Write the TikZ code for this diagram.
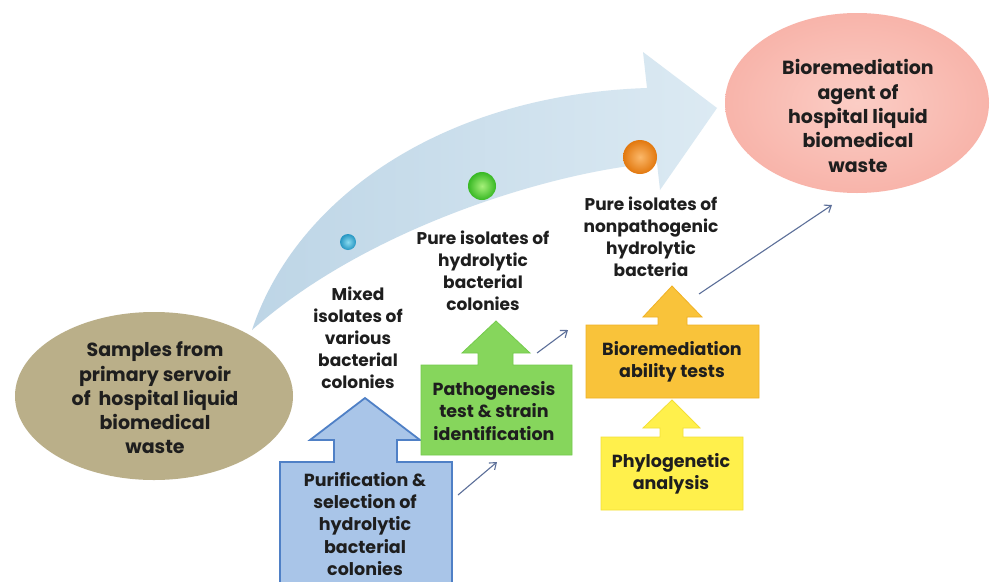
\documentclass[tikz,border=0pt]{standalone}
\usepackage{fontspec}
\setmainfont{Poppins}
\usetikzlibrary{shapes.geometric,arrows.meta}
\definecolor{txt}{HTML}{1E1E1E}
\definecolor{tanfill}{HTML}{BAAF89}
\definecolor{pinkfill}{HTML}{F8B4AA}
\definecolor{pinklight}{HTML}{FBCDC5}
\definecolor{arrowA}{HTML}{BDD5E6}
\definecolor{arrowB}{HTML}{DCEAF3}
\definecolor{bluefill}{HTML}{A9C5E8}
\definecolor{blueedge}{HTML}{4F80C6}
\definecolor{greenfill}{HTML}{86D65C}
\definecolor{greenedge}{HTML}{74CA4C}
\definecolor{orangefill}{HTML}{F9C33A}
\definecolor{orangeedge}{HTML}{F0B125}
\definecolor{yellowfill}{HTML}{FFF04C}
\definecolor{yellowedge}{HTML}{F3DF36}
\definecolor{conn}{HTML}{5C6F99}
\definecolor{ballBi}{HTML}{8ADBF0}
\definecolor{ballBo}{HTML}{2696C2}
\definecolor{ballGi}{HTML}{A6F07A}
\definecolor{ballGo}{HTML}{38B824}
\definecolor{ballOi}{HTML}{FBB86A}
\definecolor{ballOo}{HTML}{E2780E}
\tikzset{
  big/.style={align=center, text=txt, font=\bfseries\fontsize{19}{24.3}\selectfont},
  lbl/.style={align=center, text=txt, font=\bfseries\fontsize{17}{22}\selectfont},
  boxlbl/.style={align=center, text=txt, font=\bfseries\fontsize{17.5}{22.6}\selectfont},
  thin/.style={draw=conn, line width=1.1pt, -{Straight Barb[length=6pt,width=9pt]}},
  ballnode/.style={circle, inner sep=0pt, minimum size=#1},
}
\begin{document}
\begin{tikzpicture}[x=1pt,y=-1pt]
\useasboundingbox (0,0) rectangle (990,581);
\fill[white] (0,0) rectangle (990,581);

% big curved arrow
\shade[left color=arrowA, right color=arrowB]
  (252,330) .. controls (295,200) and (440,95) .. (647,88)
  -- (643,52) -- (717,108) -- (660,190) -- (657,163)
  .. controls (560,170) and (370,225) .. (252,330)
  -- cycle;

% balls
\node[ballnode=16pt, inner color=ballBi, outer color=ballBo] (b1) at (348,242) {};
\node[ballnode=28pt, inner color=ballGi, outer color=ballGo] (b2) at (482,186) {};
\node[ballnode=34pt, inner color=ballOi, outer color=ballOo] (b3) at (640,157) {};

% ellipses
\node[ellipse, minimum width=278pt, minimum height=168pt, fill=tanfill] (src) at (154,396) {};
\node[big] (srct) at (155,398) {Samples from\\primary servoir\\of\ \ hospital liquid\\biomedical\\waste};
\node[ellipse, minimum width=264pt, minimum height=180pt, inner color=pinklight, outer color=pinkfill] (dst) at (857,103) {};
\node[big] (dstt) at (858,116) {Bioremediation\\agent of\\hospital liquid\\biomedical\\waste};

% stage labels
\node[lbl] (s1) at (358,338) {Mixed\\isolates of\\various\\bacterial\\colonies};
\node[lbl] (s2) at (483,271) {Pure isolates of\\hydrolytic\\bacterial\\colonies};
\node[lbl] (s3) at (651,237) {Pure isolates of\\nonpathogenic\\hydrolytic\\bacteria};

% block arrows
\filldraw[fill=bluefill, draw=blueedge, line width=1.8pt]
  (280,600) -- (280,462) -- (334,462) -- (334,440) -- (310,440) -- (365,398)
  -- (420,440) -- (397,440) -- (397,462) -- (452,462) -- (452,600) -- cycle;
\node[boxlbl, font=\bfseries\fontsize{17.5}{22.4}\selectfont] (bt) at (365,524) {Purification \&\\selection of\\hydrolytic\\bacterial\\colonies};

\filldraw[fill=greenfill, draw=greenedge, line width=0.8pt]
  (421,455) -- (421,365) -- (478,365) -- (478,353) -- (462,353) -- (496,321)
  -- (530,353) -- (513,353) -- (513,365) -- (572,365) -- (572,455) -- cycle;
\node[boxlbl] (gt) at (494,411) {Pathogenesis\\test \& strain\\identification};

\filldraw[fill=orangefill, draw=orangeedge, line width=0.8pt]
  (586,398) -- (586,325) -- (658,325) -- (658,317) -- (643,317) -- (672,286)
  -- (702,317) -- (687,317) -- (687,325) -- (759,325) -- (759,398) -- cycle;
\node[boxlbl] (ot) at (672,362) {Bioremediation\\ability tests};

\filldraw[fill=yellowfill, draw=yellowedge, line width=0.8pt]
  (601,510) -- (601,437) -- (660,437) -- (660,428) -- (643,428) -- (672,400)
  -- (700,428) -- (683,428) -- (683,437) -- (743,437) -- (743,510) -- cycle;
\node[boxlbl] (yt) at (671,474) {Phylogenetic\\analysis};

% thin connectors
\coordinate (c1a) at (458,495);
\coordinate (c1b) at (497,462);
\coordinate (c2a) at (537,353);
\coordinate (c2b) at (568,330);
\coordinate (c3a) at (699,294);
\coordinate (c3b) at (832,205);
\draw[thin] (c1a) -- (c1b);
\draw[thin] (c2a) -- (c2b);
\draw[thin] (c3a) -- (c3b);
\end{tikzpicture}
\end{document}
